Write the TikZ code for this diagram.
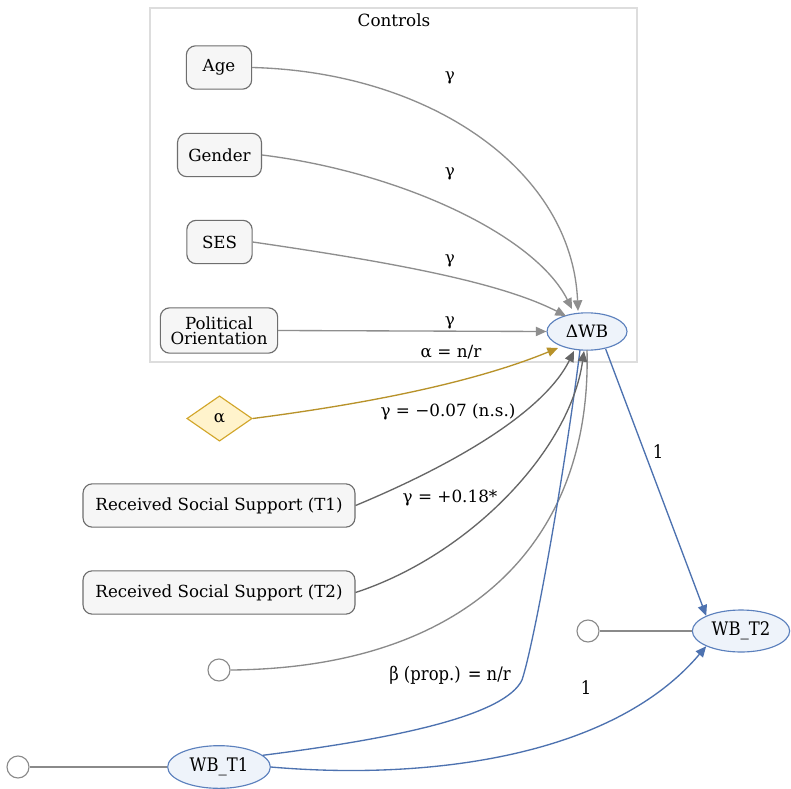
\documentclass[tikz,border=0pt]{standalone}
\usepackage{fontspec}
\setmainfont{DejaVu Serif}
\newfontfamily\narrowfont[FakeStretch=0.88]{DejaVu Serif}
\usetikzlibrary{shapes.geometric,arrows.meta}
\definecolor{ctrlgray}{HTML}{8E8E8E}
\definecolor{darkedge}{HTML}{666666}
\definecolor{resgray}{HTML}{8A8A8A}
\definecolor{goldedge}{HTML}{B8922A}
\definecolor{blueedge}{HTML}{4D72B0}
\definecolor{boxfill}{HTML}{F6F6F6}
\definecolor{boxdraw}{HTML}{6E6E6E}
\definecolor{ellfill}{HTML}{EEF3FA}
\definecolor{elldraw}{HTML}{5B80BD}
\definecolor{diafill}{HTML}{FFF3CC}
\definecolor{diadraw}{HTML}{D2A62A}
\definecolor{clusterdraw}{HTML}{DDDDDD}
\tikzset{
  lbl/.style={font=\fontsize{12.6}{14}\selectfont, text=black, inner sep=0pt},
  nlbl/.style={font=\narrowfont\fontsize{14}{16}\selectfont, text=black, inner sep=0pt},
  varbox/.style={draw=boxdraw, fill=boxfill, rounded corners=7pt, line width=0.85pt, font=\fontsize{12.5}{13.5}\selectfont, align=center, inner sep=0pt},
  latent/.style={ellipse, draw=elldraw, fill=ellfill, line width=0.85pt, inner sep=0pt},
  resid/.style={circle, draw=resgray, fill=white, line width=0.85pt, minimum size=16.5pt, inner sep=0pt},
  ctrlarrow/.style={draw=ctrlgray, line width=1pt, -{Triangle[length=8pt,width=7pt]}},
  darkarrow/.style={draw=darkedge, line width=1pt, -{Triangle[length=8pt,width=7pt]}},
  goldarrow/.style={draw=goldedge, line width=1pt, -{Triangle[length=8pt,width=7pt]}},
  bluearrow/.style={draw=blueedge, line width=1pt, -{Triangle[length=8pt,width=7pt]}},
  blueline/.style={draw=blueedge, line width=1pt},
  resline/.style={draw=resgray, line width=1pt},
}
\begin{document}
\begin{tikzpicture}[x=0.75pt,y=-0.75pt]
\path[use as bounding box, fill=white] (0,0) rectangle (791,788);
% cluster
\draw[clusterdraw, line width=0.8pt] (150,8) rectangle (637,362);
\node[lbl] (ctl) at (394,20) {Controls};
% nodes
\node[varbox, minimum width=49pt, minimum height=32.5pt] (age) at (219,67.5) {Age};
\node[varbox, minimum width=63pt, minimum height=32.5pt] (gender) at (219.5,155) {Gender};
\node[varbox, minimum width=49pt, minimum height=32.5pt] (ses) at (219.5,242) {SES};
\node[varbox, minimum width=88pt, minimum height=34pt] (pol) at (219,330.5) {Political\\[-2pt]Orientation};
\node[latent, minimum width=60pt, minimum height=28pt, font=\fontsize{12.8}{14}\selectfont] (dwb) at (587,331.5) {ΔWB};
\node[diamond, draw=diadraw, fill=diafill, line width=0.85pt, minimum width=49pt, minimum height=34pt, inner sep=0pt, aspect=1.45, font=\fontsize{12.5}{14}\selectfont] (alpha) at (219.5,418.5) {α};
\node[varbox, minimum width=204pt, minimum height=32.5pt] (rss1) at (219,505.5) {Received Social Support (T1)};
\node[varbox, minimum width=204pt, minimum height=32.5pt] (rss2) at (219,592.5) {Received Social Support (T2)};
\node[resid] (e1) at (219,670) {};
\node[latent, minimum width=77pt, minimum height=32pt, font=\narrowfont\fontsize{14}{16}\selectfont] (wb1) at (219,767) {WB\_T1};
\node[resid] (e0) at (18,767) {};
\node[latent, minimum width=73pt, minimum height=31.5pt, font=\narrowfont\fontsize{14}{16}\selectfont] (wb2) at (741,631) {WB\_T2};
\node[resid] (e2) at (588,631) {};
% control edges
\draw[ctrlarrow] (age.east) .. controls (430,72) and (572,170) .. (578,311);
\draw[ctrlarrow] (gender.east) .. controls (400,172) and (535,235) .. (572,309);
\draw[ctrlarrow] (ses.east) .. controls (390,262) and (500,282) .. (566,316);
\draw[ctrlarrow] (pol.east) -- (dwb.west);
\node[lbl] (g1) at (450,78) {γ};
\node[lbl] (g2) at (450,174) {γ};
\node[lbl] (g3) at (450,261) {γ};
\node[lbl] (g4) at (450,323) {γ};
% alpha
\draw[goldarrow] (alpha.east) .. controls (380,402) and (480,380) .. (558,348);
\node[lbl] (al) at (451,352) {α = n/r};
% residual to dWB
\draw[resline] (e1.east) .. controls (470,668) and (592,540) .. (587,350);
% blue WB_T1 -> dWB
\draw[blueline] (wb1.15) .. controls (400,738) and (505,715) .. (522,680) .. controls (535,640) and (565,470) .. (580,350);
% RSS edges
\draw[darkarrow] (rss1.east) .. controls (460,462) and (545,410) .. (574,351);
\draw[darkarrow] (rss2.east) .. controls (470,555) and (570,450) .. (584,351);
\node[lbl] (l1) at (448,412) {γ = −0.07 (n.s.)};
\node[lbl] (l2) at (450,498) {γ = +0.18*};
\node[nlbl] (lb) at (450,675) {β (prop.) = n/r};
% dWB -> WB_T2
\draw[bluearrow] (dwb.south east) ++(-10,4) coordinate (dstart) (dstart) -- (wb2.north west);
\node[nlbl] (one1) at (658,452) {1};
% WB_T1 -> WB_T2
\draw[bluearrow] (wb1.east) .. controls (420,780) and (610,760) .. (wb2.south west);
\node[nlbl] (one2) at (586,688) {1};
% residual lines
\draw[resline] (e2.east) -- (wb2.west);
\draw[resline] (e0.east) -- (wb1.west);
\end{tikzpicture}
\end{document}
